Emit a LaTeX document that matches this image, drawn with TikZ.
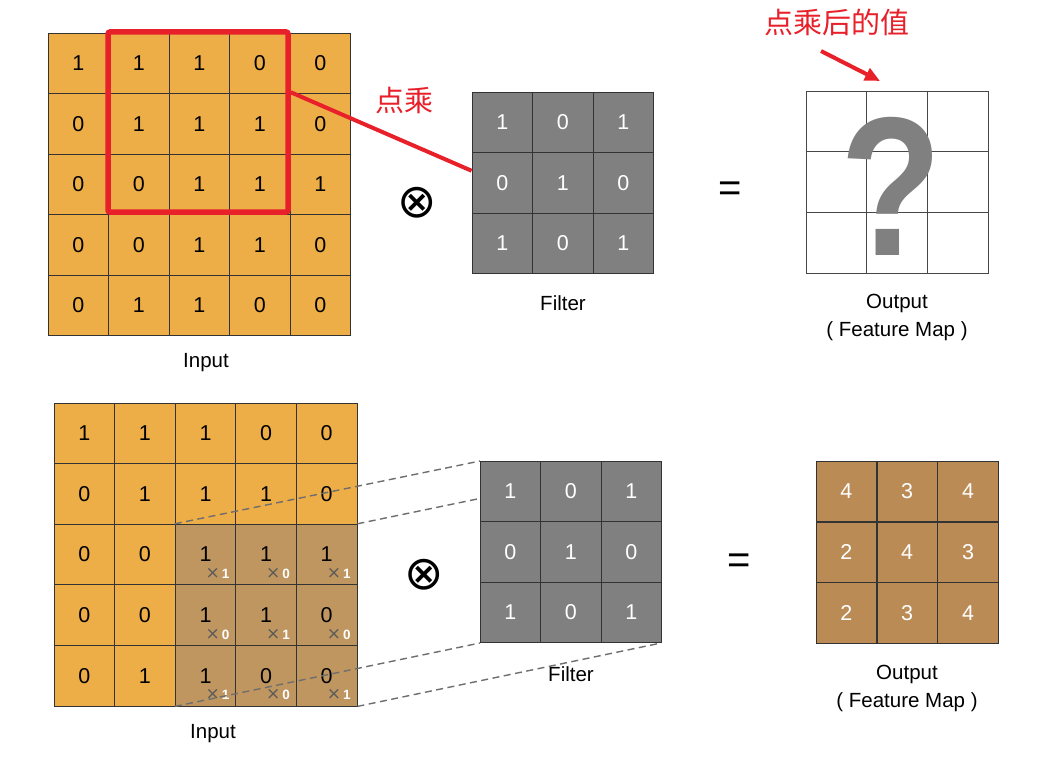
\documentclass[tikz,border=0pt]{standalone}
\usepackage{fontspec}
\setmainfont{Liberation Sans}
\newfontfamily\cjk{Noto Sans CJK SC}
\newfontfamily\dvs{DejaVu Sans}
\usetikzlibrary{arrows.meta,calc}
\definecolor{orng}{HTML}{EDAD47}
\definecolor{darkc}{HTML}{BF965F}
\definecolor{fgray}{HTML}{808080}
\definecolor{outb}{HTML}{BB8B55}
\definecolor{redc}{HTML}{E8202A}
\definecolor{gridc}{HTML}{333333}
\definecolor{xgray}{HTML}{5A5A5A}
\definecolor{dashc}{HTML}{6E6E6E}
\tikzset{
  cell/.style={draw=gridc, line width=0.9pt, minimum size=60.5pt, inner sep=0pt,
    font=\fontsize{21.5}{24}\selectfont},
  bk0/.style={fill=orng},
  bk1/.style={fill=darkc},
  fcell/.style={cell, fill=fgray, text=white},
  ocell/.style={cell, fill=outb, text=white},
  qcell/.style={cell, draw=gridc!90, line width=0.8pt, fill=white},
  mult/.style={inner sep=0pt, font=\fontsize{13.5}{16}\selectfont},
  lbl/.style={inner sep=0pt, font=\fontsize{20.5}{24}\selectfont},
  cjklbl/.style={inner sep=0pt, text=redc, font=\cjk\fontsize{29}{32}\selectfont},
  opsym/.style={inner sep=0pt, font=\dvs\fontsize{47}{49}\selectfont},
  eqsym/.style={inner sep=0pt, font=\fontsize{40}{44}\selectfont},
  dashline/.style={draw=dashc, line width=1.4pt, dash pattern=on 7pt off 4.5pt},
  redline/.style={draw=redc, line width=4pt},
}
\begin{document}
\begin{tikzpicture}[x=1pt,y=-1pt]
\useasboundingbox[fill=white] (0,0) rectangle (1064,762);

% ---------- TOP ROW ----------
% input grid
\foreach \row [count=\r from 0] in {{1,1,1,0,0},{0,1,1,1,0},{0,0,1,1,1},{0,0,1,1,0},{0,1,1,0,0}}{
  \foreach \v [count=\c from 0] in \row {
    \node[cell, bk0] (tin-\r-\c) at (48+30.25+60.5*\c, 33+30.25+60.5*\r) {\v};
  }
}
% filter grid
\foreach \row [count=\r from 0] in {{1,0,1},{0,1,0},{1,0,1}}{
  \foreach \v [count=\c from 0] in \row {
    \node[fcell] (tf-\r-\c) at (472+30.25+60.5*\c, 92+30.25+60.5*\r) {\v};
  }
}
% output grid (unknown)
\foreach \r in {0,1,2}{
  \foreach \c in {0,1,2}{
    \node[qcell, minimum size=60.8pt] (to-\r-\c) at (806+30.4+60.8*\c, 91+30.4+60.8*\r) {};
  }
}
\node[inner sep=0pt, text=fgray, xscale=0.84, font=\fontsize{198}{198}\selectfont\bfseries] (qm) at (891,186) {?};

% red window and dot-product line
\node[draw=redc, line width=5.5pt, rounded corners=2pt, minimum width=180pt, minimum height=180pt, inner sep=0pt] (redbox) at (198,122) {};
\draw[redline] ([yshift=-63pt]redbox.north east) -- ([yshift=12pt]tf-1-0.west);
\node[cjklbl] (dotlbl) at (404,100) {点乘};

% red arrow and its label
\node[cjklbl] (vallbl) at (837,22) {点乘后的值};
\coordinate (arrS) at (821,51);
\coordinate (arrE) at (880,81);
\draw[redline, -{Triangle[length=15pt,width=13pt]}] (arrS) -- (arrE);

% operators
\node[opsym] (otop) at (417,203) {⊗};
\node[eqsym] (eqtop) at (730,192) {=};

% labels
\node[lbl] (tinlbl) at (206,363) {Input};
\node[lbl] (tflbl) at (563,303) {Filter};
\node[lbl] (tolbl) at (897,303) {Output};
\node[lbl] (tofm) at (897,331) {( Feature Map )};

% ---------- BOTTOM ROW ----------
\foreach \row [count=\r from 0] in {{1,1,1,0,0},{0,1,1,1,0},{0,0,1,1,1},{0,0,1,1,0},{0,1,1,0,0}}{
  \foreach \v [count=\c from 0] in \row {
    \pgfmathtruncatemacro\isdark{(\r>1)&&(\c>1)}
    \node[cell, bk\isdark] (bin-\r-\c) at (54+30.3+60.6*\c, 403+30.3+60.6*\r) {\v};
  }
}
% multipliers in the window
\foreach \row [count=\r from 2] in {{1,0,1},{0,1,0},{1,0,1}}{
  \foreach \v [count=\c from 2] in \row {
    \node[mult] (m-\r-\c) at ($(bin-\r-\c.center)+(12,19)$) {\textcolor{xgray}{\dvs\fontsize{17}{18}\selectfont ×}\hspace{2pt}\textcolor{white}{\bfseries\v}};
  }
}
% filter corner coordinates
\coordinate (bfTL) at (480,461);
\coordinate (bfTR) at (661,461);
\coordinate (bfBL) at (480,643);
\coordinate (bfBR) at (661,643);
% projection lines
\draw[dashline] (bin-2-2.north west) -- (bfTL);
\draw[dashline] (bin-2-4.north east) -- (bfTR);
\draw[dashline] (bin-4-2.south west) -- (bfBL);
\draw[dashline] (bin-4-4.south east) -- (bfBR);
% filter grid
\foreach \row [count=\r from 0] in {{1,0,1},{0,1,0},{1,0,1}}{
  \foreach \v [count=\c from 0] in \row {
    \node[fcell] (bf-\r-\c) at (480+30.25+60.5*\c, 461+30.25+60.5*\r) {\v};
  }
}
% output grid
\foreach \row [count=\r from 0] in {{4,3,4},{2,4,3},{2,3,4}}{
  \foreach \v [count=\c from 0] in \row {
    \node[ocell] (bo-\r-\c) at (816+30.4+60.8*\c, 461+30.4+60.8*\r) {\v};
  }
}
% operators
\node[opsym] (obot) at (424,575) {⊗};
\node[eqsym] (eqbot) at (739,564) {=};
% labels
\node[lbl] (binlbl) at (213,734) {Input};
\node[lbl] (bflbl) at (571,674) {Filter};
\node[lbl] (bolbl) at (907,674) {Output};
\node[lbl] (bofm) at (907,702) {( Feature Map )};
\end{tikzpicture}
\end{document}
